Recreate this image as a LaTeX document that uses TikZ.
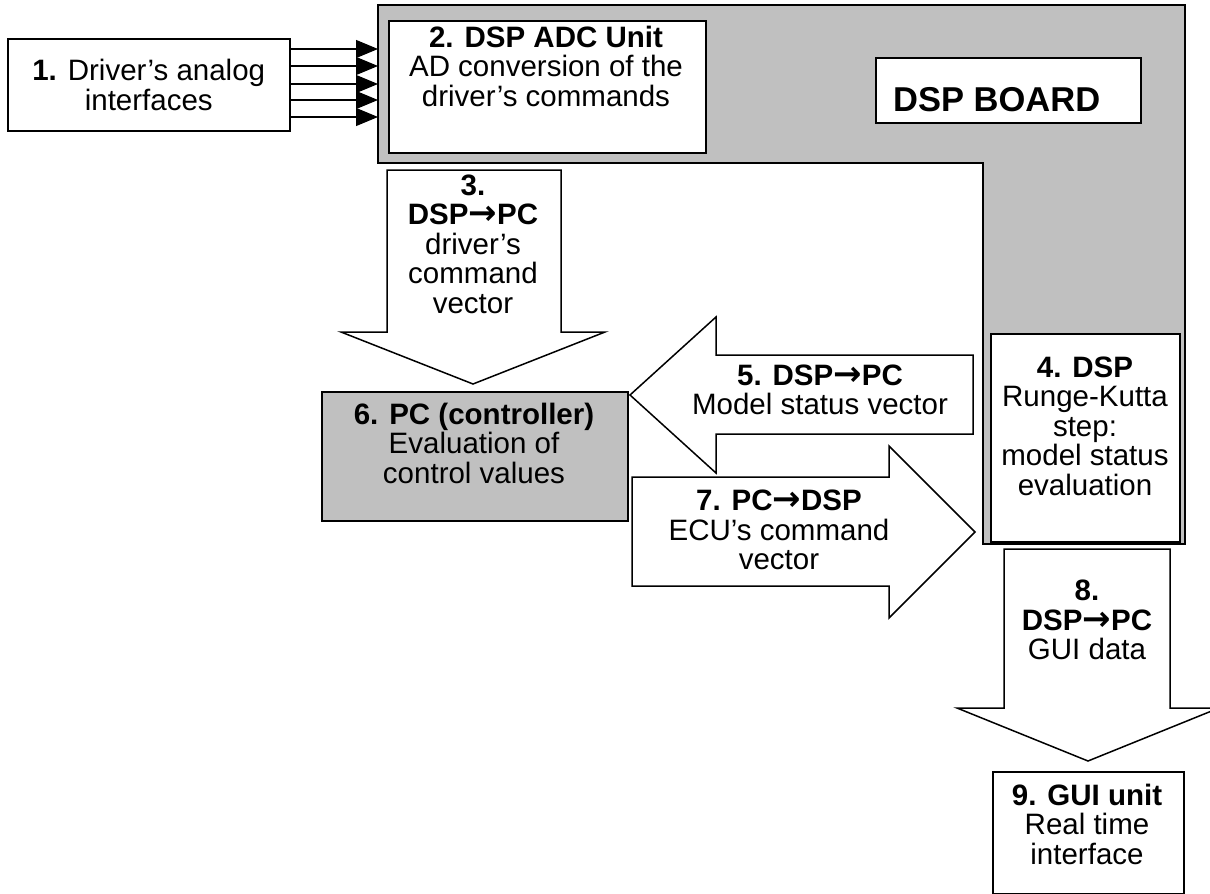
\documentclass[tikz,border=0pt]{standalone}
\usepackage{fontspec}
\setmainfont{Liberation Sans}
\newfontfamily\arrfont{DejaVu Sans}
\usetikzlibrary{arrows.meta}
\definecolor{boardgray}{RGB}{192,192,192}
\newcommand{\fs}{\fontsize{29.5}{29.5}\selectfont}
\newcommand{\ra}{{\arrfont\bfseries\fontsize{34}{29.5}\selectfont →}}
\tikzset{
  box/.style={draw, line width=1.5pt, fill=white, inner sep=0pt},
  graybox/.style={box, fill=boardgray},
  txt/.style={align=center, font=\fs, inner sep=0pt},
  blockarrow/.style={draw, line width=1.5pt, fill=white, line join=miter},
  sig/.style={line width=1.2pt, -{Triangle[length=22pt,width=18pt]}}
}
\begin{document}
\begin{tikzpicture}[x=1pt,y=-1pt]
\clip (0,0) rectangle (1210,894);
\fill[white] (0,0) rectangle (1210,894);
% DSP board (L shape)
\draw[line width=1.5pt, fill=boardgray] (378,5) -- (1185,5) -- (1185,544) -- (983,544) -- (983,163) -- (378,163) -- cycle;
\coordinate (boardleft) at (378,0);
% box 1
\node[box, minimum width=282pt, minimum height=92pt, anchor=north west, txt] (b1) at (7,38) {\textbf{1.} Driver’s analog\\interfaces};
% box 2
\node[box, minimum width=317pt, minimum height=132pt, anchor=north west] (b2) at (388,20) {};
\node[txt] (t2) at (546,66) {\textbf{2. DSP ADC Unit}\\AD conversion of the\\driver’s commands};
% board label
\node[box, minimum width=265pt, minimum height=65pt, anchor=north west] (bl) at (875,57) {};
\node[txt, anchor=west, font=\fontsize{34.5}{34.5}\selectfont] (tbl) at (893,100) {\textbf{DSP BOARD}};
% signal arrows
\foreach \yy in {49,66,84,100,117}
  \draw[sig] (b1.east |- 0,\yy) -- (boardleft |- 0,\yy);
% arrow 3
\draw[blockarrow] (387,170) -- (561,170) -- (561,332) -- (605,332) -- (473,384) -- (341,332) -- (387,332) -- cycle;
\node[txt] (t3) at (473,244) {\textbf{3.}\\\textbf{DSP\ra PC}\\driver’s\\command\\vector};
% box 6
\node[graybox, minimum width=306pt, minimum height=129pt, anchor=north west] (b6) at (321,391) {};
\node[txt] (t6) at (474,443) {\textbf{6. PC (controller)}\\Evaluation of\\control values};
% arrow 5
\draw[blockarrow] (973,355) -- (973,434) -- (716,434) -- (716,473) -- (630,395) -- (716,317) -- (716,355) -- cycle;
\node[txt] (t5) at (820,390) {\textbf{5. DSP\ra PC}\\Model status vector};
% box 4
\node[box, minimum width=189pt, minimum height=208pt, anchor=north west] (b4) at (990,333) {};
\node[txt] (t4) at (1085,426) {\textbf{4. DSP}\\Runge-Kutta\\step:\\model status\\evaluation};
% arrow 7
\draw[blockarrow] (632,477) -- (889,477) -- (889,446) -- (975,532) -- (889,618) -- (889,586) -- (632,586) -- cycle;
\node[txt] (t7) at (779,530) {\textbf{7. PC\ra DSP}\\ECU’s command\\vector};
% arrow 8
\draw[blockarrow] (1004,549) -- (1170,549) -- (1170,708) -- (1219,708) -- (1088,761) -- (957,708) -- (1004,708) -- cycle;
\node[txt] (t8) at (1087,620) {\textbf{8.}\\\textbf{DSP\ra PC}\\GUI data};
% box 9
\node[box, minimum width=191pt, minimum height=122pt, anchor=north west] (b9) at (992,771) {};
\node[txt] (t9) at (1087,824) {\textbf{9. GUI unit}\\Real time\\interface};
\end{tikzpicture}
\end{document}
